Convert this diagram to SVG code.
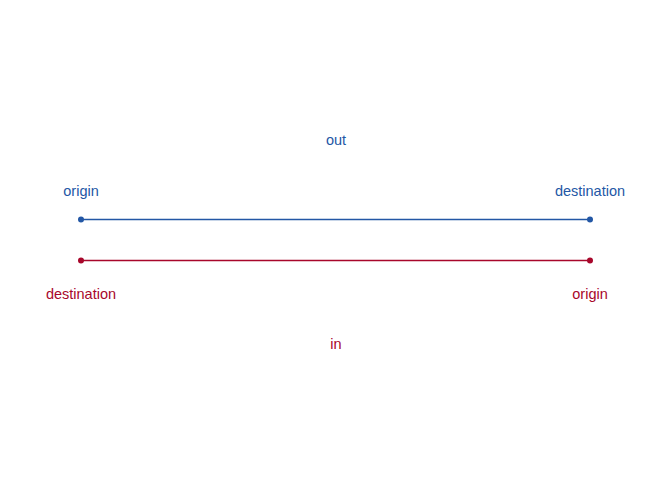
<svg xmlns="http://www.w3.org/2000/svg" width="672" height="480" viewBox="0 0 672 480">
<style>
text{font-family:"Liberation Sans",Arial,sans-serif;font-size:14.5px;text-anchor:middle}
.b{fill:#2357A5}.r{fill:#A8072B}
.lb{stroke:#2357A5;stroke-width:1.4}.lr{stroke:#A8072B;stroke-width:1.4}
</style>
<rect width="672" height="480" fill="#fff"/>
<g id="connectors">
<line class="lb" x1="81" y1="219.5" x2="590" y2="219.5"/>
<line class="lr" x1="81" y1="260.5" x2="590" y2="260.5"/>
</g>
<g id="out-origin"><circle class="b" cx="81" cy="219.5" r="3"/><text class="b" x="81" y="195.5">origin</text></g>
<g id="out-destination"><circle class="b" cx="590" cy="219.5" r="3"/><text class="b" x="590" y="195.5">destination</text></g>
<g id="in-destination"><circle class="r" cx="81" cy="260.5" r="3"/><text class="r" x="81" y="298.5">destination</text></g>
<g id="in-origin"><circle class="r" cx="590" cy="260.5" r="3"/><text class="r" x="590" y="298.5">origin</text></g>
<g id="out-label"><text class="b" x="336" y="144.5">out</text></g>
<g id="in-label"><text class="r" x="336" y="348.5">in</text></g>
</svg>
